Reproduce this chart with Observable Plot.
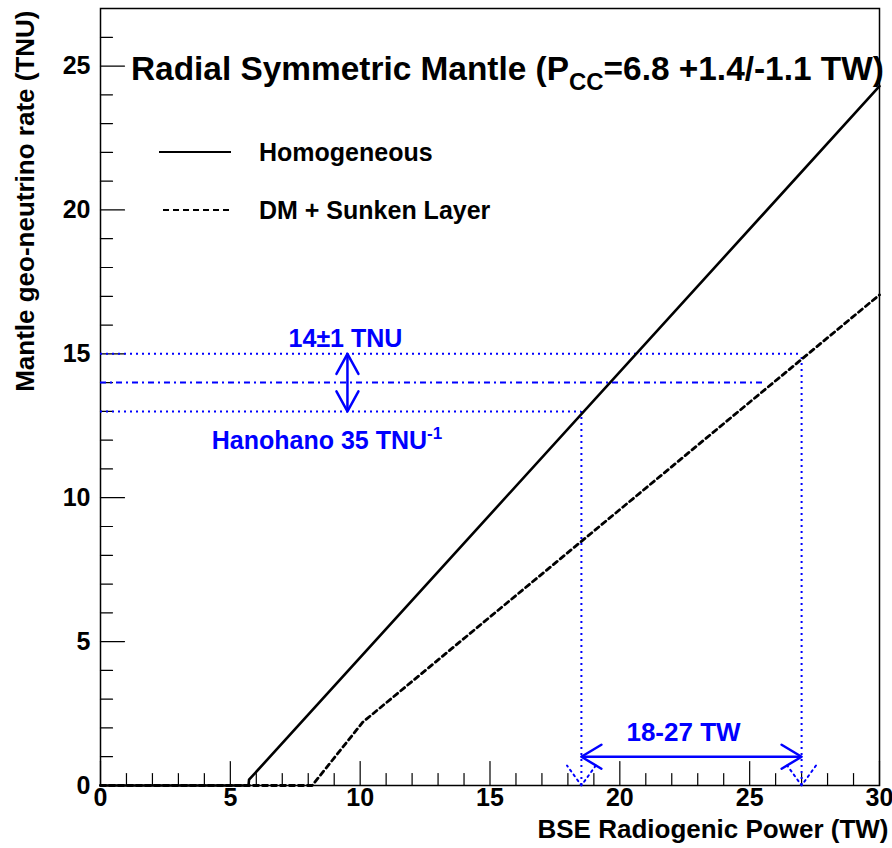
<!DOCTYPE html>
<html><head><meta charset="utf-8">
<script src="https://cdn.jsdelivr.net/npm/d3@7"></script>
<script src="https://cdn.jsdelivr.net/npm/@observablehq/plot@0.6"></script>
<style>
body{margin:0;background:#fff;}
#chart{width:892px;height:848px;}
</style>
</head><body><div id="chart"></div>
<script>
// ---- data ----
const xMajor = [0, 5, 10, 15, 20, 25, 30];
const xMinor = d3.range(0, 31, 1);
const yMajor = [0, 5, 10, 15, 20, 25];
const yMinor = d3.range(0, 27, 1);

const homogeneousX = [0, 5.7, 5.72, 30];
const homogeneousY = [0, 0, 0.2, 24.3];
const sunkenX = [0, 8.15, 10.1, 30];
const sunkenY = [0, 0, 2.2, 17.05];

const rateCenter = 14, rateLo = 13, rateHi = 15;
const powerLo = 18.52, powerHi = 27.0;
const centerLineEnd = 25.5;
const rateArrowX = 9.51;
const powerArrowY = 1.0;

const BLUE = "#0000ff";
const FONT = "'Liberation Sans', Arial, Helvetica, sans-serif";

const hom = homogeneousX.map((x, i) => ({x, y: homogeneousY[i]}));
const dm = sunkenX.map((x, i) => ({x, y: sunkenY[i]}));

// open V arrow head, tip at origin, pointing "up" before rotation
const vHead = ratio => ({draw(ctx, l) { ctx.moveTo(-l * ratio, l); ctx.lineTo(0, 0); ctx.lineTo(l * ratio, l); }});
// straight tick segment pointing "up" before rotation
const tickShape = {draw(ctx, l) { ctx.moveTo(0, 0); ctx.lineTo(0, -l); }};

const chart = Plot.plot({
  width: 892, height: 848,
  marginLeft: 100, marginRight: 13, marginTop: 8, marginBottom: 63,
  x: {domain: [0, 30]},
  y: {domain: [0, 27]},
  style: {fontFamily: FONT, fontWeight: "bold", fontSize: "25px", color: "black", background: "white"},
  marks: [
    // axes: tick labels only, inward ticks drawn as vectors
    Plot.axisX(xMajor, {tickSize: 0, tickPadding: 3, label: null, fontSize: 25}),
    Plot.axisY(yMajor, {tickSize: 0, tickPadding: 10, label: null, fontSize: 25}),
    Plot.vector(xMinor, {x: d => d, y: 0, length: d => (d % 5 === 0 ? 14 : 7), anchor: "start", shape: tickShape, stroke: "black", strokeWidth: 1.2}),
    Plot.vector(yMinor, {x: 0, y: d => d, rotate: 90, length: d => (d % 5 === 0 ? 14 : 7), anchor: "start", shape: tickShape, stroke: "black", strokeWidth: 1.2}),
    Plot.frame({stroke: "black", strokeWidth: 1.5}),
    // blue guides
    Plot.ruleY([rateHi], {x1: 0, x2: powerHi, stroke: BLUE, strokeWidth: 2, strokeDasharray: "2,4"}),
    Plot.ruleY([rateLo], {x1: 0, x2: powerLo, stroke: BLUE, strokeWidth: 2, strokeDasharray: "2,4"}),
    Plot.ruleY([rateCenter], {x1: 0, x2: centerLineEnd, stroke: BLUE, strokeWidth: 2, strokeDasharray: "6,4,2,4"}),
    Plot.ruleX([powerLo], {y1: 0, y2: rateLo, stroke: BLUE, strokeWidth: 2, strokeDasharray: "2,4"}),
    Plot.ruleX([powerHi], {y1: 0, y2: rateHi, stroke: BLUE, strokeWidth: 2, strokeDasharray: "2,4"}),
    Plot.vector([{x: powerLo, y: 0}, {x: powerHi, y: 0}], {x: "x", y: "y", rotate: 180, length: 20, anchor: "start",
      shape: vHead(0.72), stroke: BLUE, strokeWidth: 2, strokeDasharray: "2,4"}),
    // double arrows
    Plot.ruleX([rateArrowX], {y1: rateLo, y2: rateHi, stroke: BLUE, strokeWidth: 2.5}),
    Plot.vector([{x: rateArrowX, y: rateHi, r: 0}, {x: rateArrowX, y: rateLo, r: 180}], {x: "x", y: "y", rotate: "r", length: 20, anchor: "start",
      shape: vHead(0.55), stroke: BLUE, strokeWidth: 2.5}),
    Plot.ruleY([powerArrowY], {x1: powerLo, x2: powerHi, stroke: BLUE, strokeWidth: 2.5}),
    Plot.vector([{x: powerLo, y: powerArrowY, r: 270}, {x: powerHi, y: powerArrowY, r: 90}], {x: "x", y: "y", rotate: "r", length: 20, anchor: "start",
      shape: vHead(0.6), stroke: BLUE, strokeWidth: 2.5}),
    // model lines
    Plot.line(hom, {x: "x", y: "y", stroke: "black", strokeWidth: 2.6}),
    Plot.line(dm, {x: "x", y: "y", stroke: "black", strokeWidth: 2.8, strokeDasharray: "5,4"}),
    // annotations
    Plot.text(["14±1 TNU"], {x: rateArrowX, y: rateHi, dx: -2, dy: -15, fill: BLUE, fontSize: 25}),
    Plot.text(["18-27 TW"], {x: (powerLo + powerHi) / 2, y: powerArrowY, dx: -8, dy: -24, fill: BLUE, fontSize: 26}),
    // axis titles
    Plot.text(["BSE Radiogenic Power (TW)"], {frameAnchor: "bottom-right", textAnchor: "end", dx: 9, dy: 52, fontSize: 26}),
    Plot.text(["Mantle geo-neutrino rate (TNU)"], {frameAnchor: "top-left", rotate: -90, textAnchor: "end", dx: -85, dy: 2, fontSize: 26})
  ]
});
document.getElementById("chart").appendChild(chart);

const svg = d3.select(chart);
const sx = chart.scale("x"), sy = chart.scale("y");

// Hanohano label with superscript
const hano = svg.append("text")
  .attr("x", sx.apply(rateArrowX) - 20).attr("y", sy.apply(rateLo) + 38)
  .attr("text-anchor", "middle").attr("fill", BLUE)
  .style("font-family", FONT).style("font-weight", "bold").style("font-size", "25px");
hano.append("tspan").text("Hanohano 35 TNU");
hano.append("tspan").attr("dy", -10).style("font-size", "17px").text("-1");

// Title with subscript
const title = svg.append("text").attr("x", 131).attr("y", 80).attr("text-anchor", "start")
  .style("font-family", FONT).style("font-weight", "bold").style("font-size", "33.4px");
title.append("tspan").text("Radial Symmetric Mantle (P");
title.append("tspan").attr("dy", 10).style("font-size", "24px").text("CC");
title.append("tspan").attr("dy", -10).text("=6.8 +1.4/-1.1 TW)");

// Legend
const legend = [
  {label: "Homogeneous", dash: null, y: 152, x1: 159},
  {label: "DM + Sunken Layer", dash: "6,4", y: 210, x1: 163}
];
legend.forEach(d => {
  svg.append("line").attr("x1", d.x1).attr("x2", 231).attr("y1", d.y).attr("y2", d.y)
    .attr("stroke", "black").attr("stroke-width", 2.2).attr("stroke-dasharray", d.dash);
  svg.append("text").attr("x", 259).attr("y", d.y + 9).attr("text-anchor", "start")
    .style("font-family", FONT).style("font-weight", "bold").style("font-size", "25px").text(d.label);
});
</script>
</body></html>
